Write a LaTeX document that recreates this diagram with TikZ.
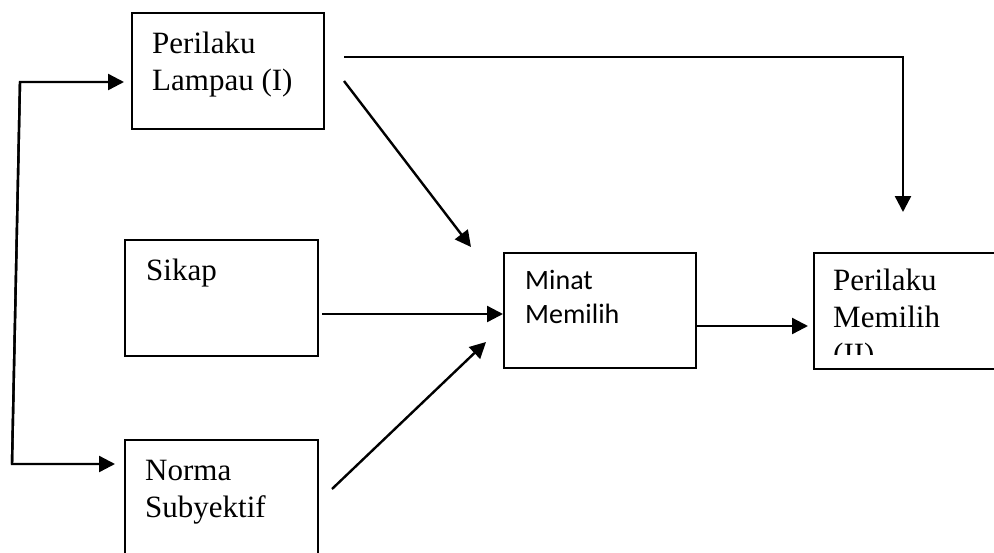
\documentclass[tikz,border=0pt]{standalone}
\usepackage{fontspec}
\setmainfont{Liberation Serif}
\newfontfamily\calibrifont{Carlito}
\usetikzlibrary{arrows.meta}
\begin{document}
\begin{tikzpicture}[x=1pt,y=-1pt,
  box/.style={draw,line width=2.4pt,inner sep=0pt,anchor=north west},
  lbl/.style={anchor=base west,inner sep=0pt,align=left,font=\fontsize{31}{37}\selectfont},
  cal/.style={anchor=base west,inner sep=0pt,align=left,font=\calibrifont\fontsize{28}{34}\selectfont},
  link/.style={line width=2.4pt,-{Triangle[length=16pt,width=16pt]}}
]
\useasboundingbox (0,0) rectangle (994,552);
\clip (0,0) rectangle (994,552);

% boxes
\node[box,minimum width=192pt,minimum height=116pt] (lampau) at (131,12) {};
\node[box,minimum width=193pt,minimum height=116pt] (sikap)  at (124,239) {};
\node[box,minimum width=193pt,minimum height=140pt] (norma)  at (124,439) {};
\node[box,minimum width=192pt,minimum height=115pt] (minat)  at (503,252) {};
\node[box,minimum width=200pt,minimum height=116pt] (hasil)  at (813,252) {};

% texts (anchored on the baseline of their last line)
\node[lbl] (lampau-t) at (152,90) {Perilaku\\Lampau (I)};
\node[lbl] (sikap-t)  at (146,280) {Sikap};
\node[lbl] (norma-t)  at (145,517) {Norma\\Subyektif};
\node[cal] (minat-t)  at (525,323) {Minat\\Memilih};
\begin{scope}
  \clip (813,252) rectangle (994,354);
  \node[lbl] (hasil-t) at (833,364) {Perilaku\\Memilih\\(II)};
\end{scope}

% connector end points
\coordinate (split-top) at (20,82);
\coordinate (split-bot) at (12,464);
\coordinate (top-start) at (344,57);
\coordinate (top-corner) at (903,57);
\coordinate (top-end) at (903,212);
\coordinate (diag-start) at (344,81);
\coordinate (diag-end) at (471,247);
\coordinate (sikap-out) at (322,314);
\coordinate (minat-out) at (695,326);
\coordinate (norma-out) at (332,489);
\coordinate (norma-end) at (486,342);

% connectors
\draw[link,shorten >=7pt] (split-bot) -- (split-top) -- (split-top -| lampau.west);
\draw[link,shorten >=9pt] (split-top) -- (split-bot) -- (split-bot -| norma.west);
\draw[link] (top-start) -- (top-corner) -- (top-end);
\draw[link] (diag-start) -- (diag-end);
\draw[link] (sikap-out) -- (sikap-out -| minat.west);
\draw[link,shorten >=5pt] (minat-out) -- (minat-out -| hasil.west);
\draw[link] (norma-out) -- (norma-end);
\end{tikzpicture}
\end{document}
